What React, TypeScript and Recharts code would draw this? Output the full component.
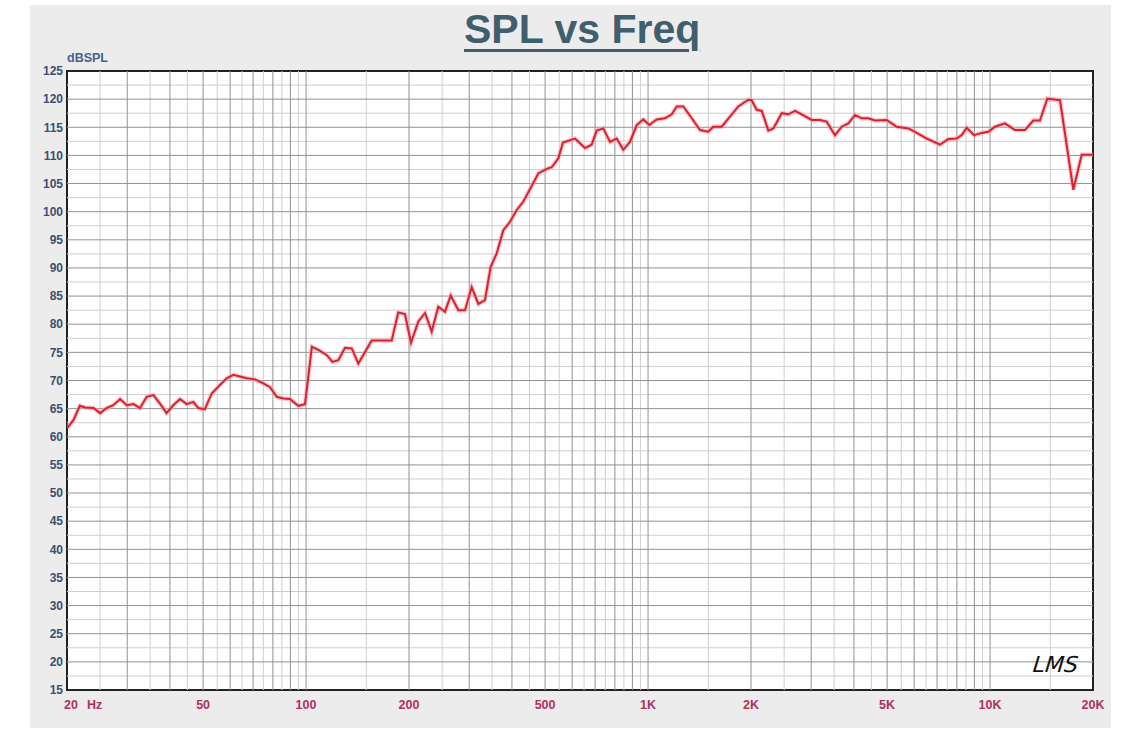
import React from "react";
import { LineChart, Line, XAxis, YAxis, CartesianGrid, ReferenceLine, ReferenceArea } from "recharts";

const freqs = [
  20, 20.9, 21.8, 22.6, 23.9, 25.0, 26.1, 27.3, 28.6, 29.9,
  31.3, 32.7, 34.2, 35.8, 37.4, 39.1, 40.9, 42.8, 44.8, 46.8,
  48.4, 50.6, 53.0, 56.0, 58.6, 61.3, 64.1, 67.1, 70.9, 75.0,
  78.5, 82.1, 85.8, 89.7, 94.9, 99.3, 104, 109, 115, 119.5,
  124.3, 130, 136, 142.2, 155.6, 178, 186, 194.6, 202.7, 213,
  222.9, 233, 243.6, 254.8, 264.8, 278.8, 291.6, 305, 319, 333.6,
  346.6, 361, 377.4, 394.8, 413, 431.8, 451.6, 477.6, 505.4, 522.8,
  546.6, 564, 611.6, 654, 684, 707.7, 740, 774, 809.8, 846.6,
  885.6, 926.6, 968.6, 1008.6, 1060, 1121, 1173, 1213, 1268, 1342,
  1419, 1500, 1552, 1642, 1736, 1836, 1964, 2009, 2078, 2150,
  2248, 2325, 2460, 2572, 2690, 2814, 3011, 3183, 3329, 3520,
  3684, 3852, 4030, 4216, 4407, 4610, 4988, 5335, 5768, 6033,
  6528, 7138, 7548, 7990, 8264, 8546, 8974, 9454, 9884, 10338,
  11058, 11828, 12652, 13380, 13996, 14704, 16018, 17518, 18534, 20000,
];

const spl = [
  61.5, 63.0, 65.5, 65.2, 65.1, 64.2, 65.1, 65.6, 66.7, 65.6,
  65.8, 65.1, 67.1, 67.4, 65.9, 64.2, 65.6, 66.7, 65.8, 66.2,
  65.1, 64.9, 67.7, 69.2, 70.4, 71.0, 70.7, 70.4, 70.2, 69.5,
  68.8, 67.1, 66.8, 66.7, 65.5, 65.8, 76.0, 75.4, 74.5, 73.3,
  73.6, 75.8, 75.7, 73.0, 77.1, 77.1, 82.1, 81.8, 76.7, 80.5,
  82.0, 78.7, 83.1, 82.2, 85.1, 82.5, 82.5, 86.6, 83.6, 84.3,
  90.2, 92.6, 96.7, 98.2, 100.3, 101.8, 104.0, 106.8, 107.6, 107.9,
  109.5, 112.3, 113.0, 111.3, 111.9, 114.4, 114.8, 112.4, 113.0, 111.0,
  112.4, 115.4, 116.4, 115.4, 116.4, 116.6, 117.3, 118.7, 118.7, 116.6,
  114.5, 114.2, 115.1, 115.1, 116.9, 118.7, 119.9, 119.8, 118.1, 117.9,
  114.4, 114.8, 117.5, 117.3, 117.9, 117.3, 116.3, 116.3, 116.0, 113.6,
  115.1, 115.7, 117.2, 116.6, 116.6, 116.2, 116.3, 115.1, 114.8, 114.2,
  113.0, 111.9, 112.9, 113.0, 113.6, 114.9, 113.6, 114.0, 114.2, 115.1,
  115.7, 114.5, 114.5, 116.2, 116.2, 120.1, 119.8, 103.9, 110.1, 110.1,
];

const xTicks = [20, 50, 100, 200, 500, 1000, 2000, 5000, 10000, 20000];
const xTickLabels = ["20", "50", "100", "200", "500", "1K", "2K", "5K", "10K", "20K"];
const yTicks = [15, 20, 25, 30, 35, 40, 45, 50, 55, 60, 65, 70, 75, 80, 85, 90, 95, 100, 105, 110, 115, 120, 125];

const majorFreqGrid = [
  30, 40, 50, 60, 70, 80, 90, 100, 200, 300, 400, 500, 600, 700, 800, 900,
  1000, 2000, 3000, 4000, 5000, 6000, 7000, 8000, 9000, 10000,
];
const minorFreqGrid = [
  25, 35, 45, 55, 65, 75, 85, 95, 150, 250, 350, 450, 550, 650, 750, 850, 950,
  1500, 2500, 3500, 4500, 5500, 6500, 7500, 8500, 9500, 15000,
];
const majorDbGrid = [20, 25, 30, 35, 40, 45, 50, 55, 60, 65, 70, 75, 80, 85, 90, 95, 100, 105, 110, 115, 120];
const minorDbGrid = [
  17.5, 22.5, 27.5, 32.5, 37.5, 42.5, 47.5, 52.5, 57.5, 62.5, 67.5, 72.5, 77.5,
  82.5, 87.5, 92.5, 97.5, 102.5, 107.5, 112.5, 117.5, 122.5,
];

const data = freqs.map((f, i) => ({ f, spl: spl[i] }));

const FONT = "'Liberation Sans', Arial, sans-serif";
const X_COLOR = "#b0305f";
const Y_COLOR = "#3b4f72";

const XTick = (props: any) => {
  const { x, y, payload } = props;
  const i = xTicks.indexOf(payload.value);
  const label = i >= 0 ? xTickLabels[i] : String(payload.value);
  if (i === 0) {
    return (
      <text x={x - 3} y={y + 19} textAnchor="start" fill={X_COLOR} fontSize={12.5} fontWeight="bold" fontFamily={FONT}>
        <tspan>{label}</tspan>
        <tspan dx={9}>Hz</tspan>
      </text>
    );
  }
  return (
    <text x={x} y={y + 19} textAnchor="middle" fill={X_COLOR} fontSize={12.5} fontWeight="bold" fontFamily={FONT}>
      {label}
    </text>
  );
};

export default function App() {
  return (
    <div style={{ position: "absolute", left: 0, top: 0, width: 1124, height: 743, background: "#fff", overflow: "hidden" }}>
      <div style={{ position: "absolute", left: 30, top: 5, width: 1081, height: 723, background: "#ececec" }} />
      <div
        style={{
          position: "absolute",
          left: 464,
          top: 9,
          fontFamily: FONT,
          fontSize: 41,
          fontWeight: "bold",
          lineHeight: "41px",
          color: "#3f5e6e",
          textDecoration: "underline",
          textDecorationThickness: "3px",
          textUnderlineOffset: "6px",
          whiteSpace: "nowrap",
        }}
      >
        SPL vs Freq
      </div>
      <div
        style={{
          position: "absolute",
          left: 67,
          top: 51,
          fontFamily: FONT,
          fontSize: 12.5,
          fontWeight: "bold",
          lineHeight: "14px",
          color: "#46628f",
        }}
      >
        dBSPL
      </div>
      <div style={{ position: "absolute", left: 0, top: 0 }}>
        <LineChart width={1124} height={743} data={data} margin={{ top: 71, right: 31, bottom: 23, left: 0 }}>
          <CartesianGrid fill="#ffffff" horizontal={false} vertical={false} />
          <XAxis
            type="number"
            dataKey="f"
            scale="log"
            domain={[20, 20000]}
            ticks={xTicks}
            allowDataOverflow
            height={30}
            tick={<XTick />}
            tickSize={0}
            tickMargin={0}
            tickLine={false}
            axisLine={false}
            interval={0}
          />
          <YAxis
            type="number"
            domain={[15, 125]}
            ticks={yTicks}
            width={67}
            tickSize={0}
            tickMargin={4}
            tickLine={false}
            axisLine={false}
            interval={0}
            tick={{ fill: Y_COLOR, fontSize: 12, fontWeight: "bold", fontFamily: FONT }}
          />
          {minorDbGrid.map((v) => (
            <ReferenceLine key={"mh" + v} y={v} stroke="#cfcfcf" strokeWidth={1} />
          ))}
          {minorFreqGrid.map((v) => (
            <ReferenceLine key={"mv" + v} x={v} stroke="#cfcfcf" strokeWidth={1} />
          ))}
          {majorDbGrid.map((v) => (
            <ReferenceLine key={"h" + v} y={v} stroke="#929292" strokeWidth={1} />
          ))}
          {majorFreqGrid.map((v) => (
            <ReferenceLine key={"v" + v} x={v} stroke="#929292" strokeWidth={1} />
          ))}
          <Line
            type="linear"
            dataKey="spl"
            stroke="#f4a4ac"
            strokeWidth={4.5}
            strokeOpacity={0.6}
            dot={false}
            activeDot={false}
            isAnimationActive={false}
          />
          <Line
            type="linear"
            dataKey="spl"
            stroke="#d8222e"
            strokeWidth={2}
            dot={false}
            activeDot={false}
            isAnimationActive={false}
          />
          <ReferenceArea x1={20} x2={20000} y1={15} y2={125} fill="none" stroke="#222222" strokeWidth={2} />
        </LineChart>
      </div>
      <div
        style={{
          position: "absolute",
          left: 1033,
          top: 651,
          fontFamily: "'DejaVu Sans', sans-serif",
          fontStyle: "italic",
          fontWeight: 300,
          fontSize: 22,
          lineHeight: "28px",
          color: "#111",
          letterSpacing: 0,
          transform: "skewX(-6deg)",
        }}
      >
        LMS
      </div>
    </div>
  );
}
